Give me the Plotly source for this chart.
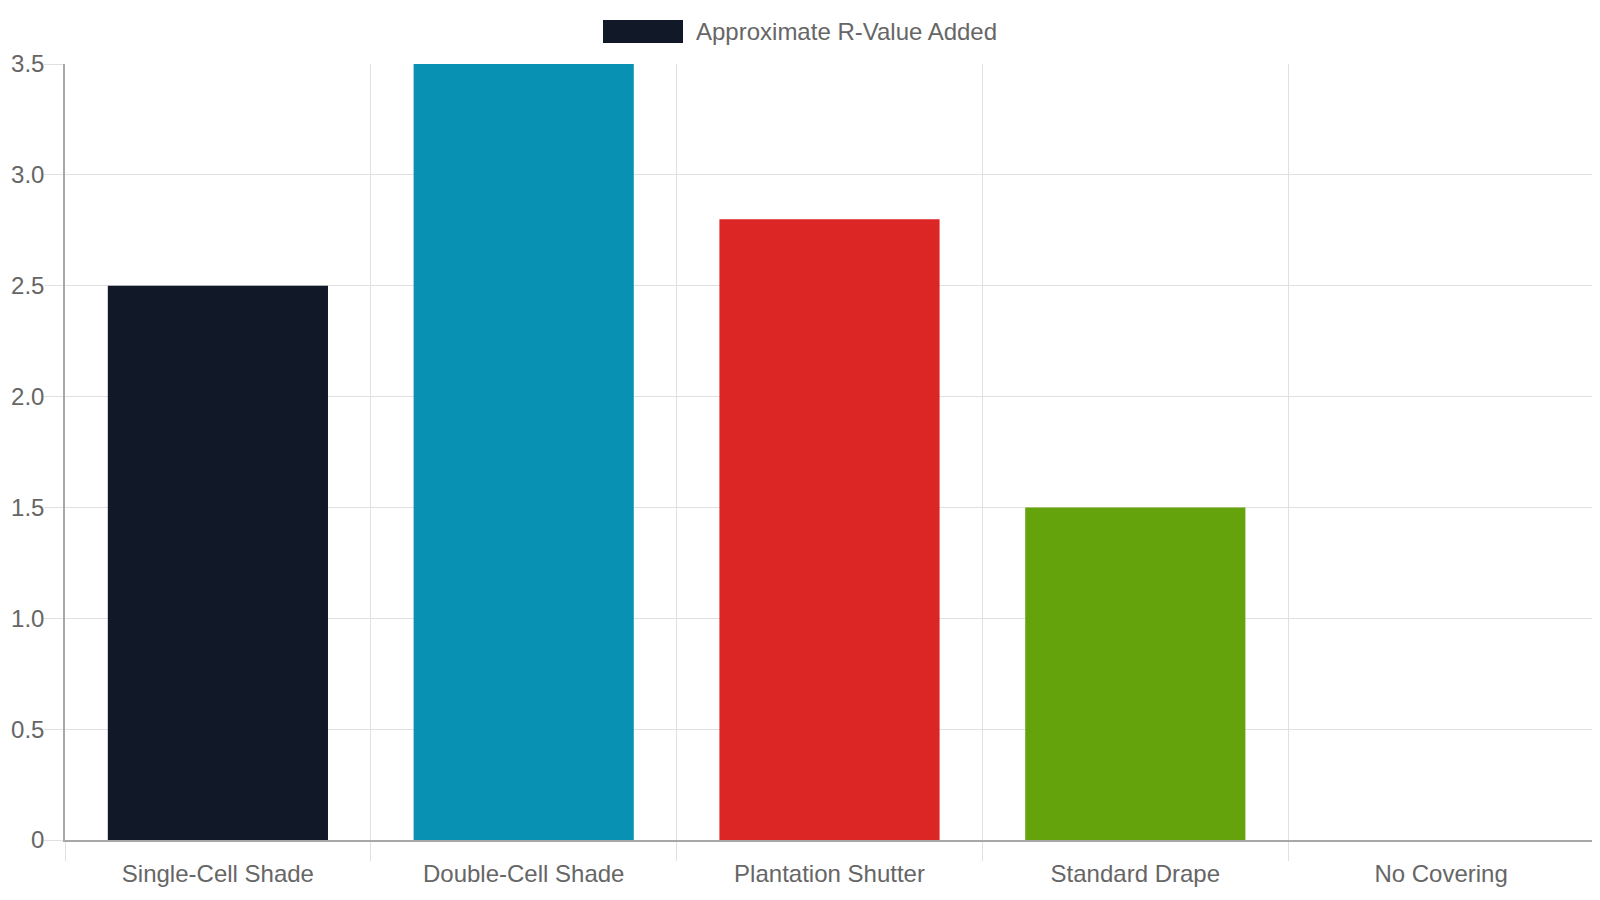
import plotly.graph_objects as go

# datos del gráfico
categorias = ["Single-Cell Shade", "Double-Cell Shade", "Plantation Shutter", "Standard Drape", "No Covering"]
valores_r = [2.5, 3.5, 2.8, 1.5, 0]
colores = ["#111827", "#0891b2", "#dc2626", "#65a30d", "#9ca3af"]
nombre_serie = "Approximate R-Value Added"
ticks_y = [0, 0.5, 1.0, 1.5, 2.0, 2.5, 3.0, 3.5]
etiquetas_y = ["0", "0.5", "1.0", "1.5", "2.0", "2.5", "3.0", "3.5"]

# el body del html tiene 8px de margen, así que la figura arranca en (8, 8)
DESPLAZ = 8
ANCHO, ALTO = 1600 - DESPLAZ, 900 - DESPLAZ
M_IZQ, M_DER, M_SUP, M_INF = 57, 6, 56, 60
FUENTE = "Liberation Sans, Arial, sans-serif"
GRIS_TEXTO = "#666666"
GRIS_GRILLA = "#e0e0e0"
GRIS_EJE = "#a8a8a8"


def px_a_paper(px, py):
    # pixeles de la ventana -> coordenadas paper del área de trazado
    px, py = px - DESPLAZ, py - DESPLAZ
    ancho_area = ANCHO - M_IZQ - M_DER
    alto_area = ALTO - M_SUP - M_INF
    return (px - M_IZQ) / ancho_area, (ALTO - M_INF - py) / alto_area


fig = go.Figure()
fig.add_trace(go.Bar(
    x=categorias, y=valores_r, name=nombre_serie,
    marker=dict(color=colores, line=dict(width=0)),
    width=0.72, showlegend=False, hoverinfo="x+y",
))

# leyenda a mano (caja ancha como en el original)
x0, y0 = px_a_paper(603, 20)
x1, y1 = px_a_paper(683, 43)
fig.add_shape(type="rect", xref="paper", yref="paper", x0=x0, x1=x1, y0=y1, y1=y0,
              fillcolor=colores[0], line=dict(width=0))
tx, ty = px_a_paper(694, 32)
fig.add_annotation(xref="paper", yref="paper", x=tx, y=ty, xanchor="left", yanchor="middle",
                   text=nombre_serie, showarrow=False,
                   font=dict(family=FUENTE, size=24, color=GRIS_TEXTO))

fig.update_layout(
    width=ANCHO, height=ALTO,
    margin=dict(l=M_IZQ, r=M_DER, t=M_SUP, b=M_INF),
    plot_bgcolor="white", paper_bgcolor="white",
    font=dict(family=FUENTE, size=24, color=GRIS_TEXTO),
    xaxis=dict(
        type="category", tickson="boundaries", ticks="outside", ticklen=19,
        tickcolor=GRIS_GRILLA, showgrid=True, gridcolor=GRIS_GRILLA, gridwidth=1,
        showline=True, linecolor=GRIS_EJE, linewidth=1.5,
        range=[-0.5, 4.5], fixedrange=True, ticklabelstandoff=11, automargin=False,
    ),
    yaxis=dict(
        range=[0, 3.5], tickvals=ticks_y, ticktext=etiquetas_y,
        ticks="outside", ticklen=19, tickcolor=GRIS_GRILLA,
        showgrid=True, gridcolor=GRIS_GRILLA, gridwidth=1,
        showline=True, linecolor=GRIS_EJE, linewidth=1.5,
        zeroline=False, automargin=False, ticklabelstandoff=-5,
    ),
    # eje vacío a la derecha solo para la última línea vertical de la grilla
    yaxis2=dict(
        overlaying="y", side="right", range=[0, 3.5], showline=True,
        linecolor=GRIS_GRILLA, linewidth=1, showgrid=False, showticklabels=False,
        ticks="", zeroline=False, automargin=False,
    ),
)

fig.write_html("out.html")
